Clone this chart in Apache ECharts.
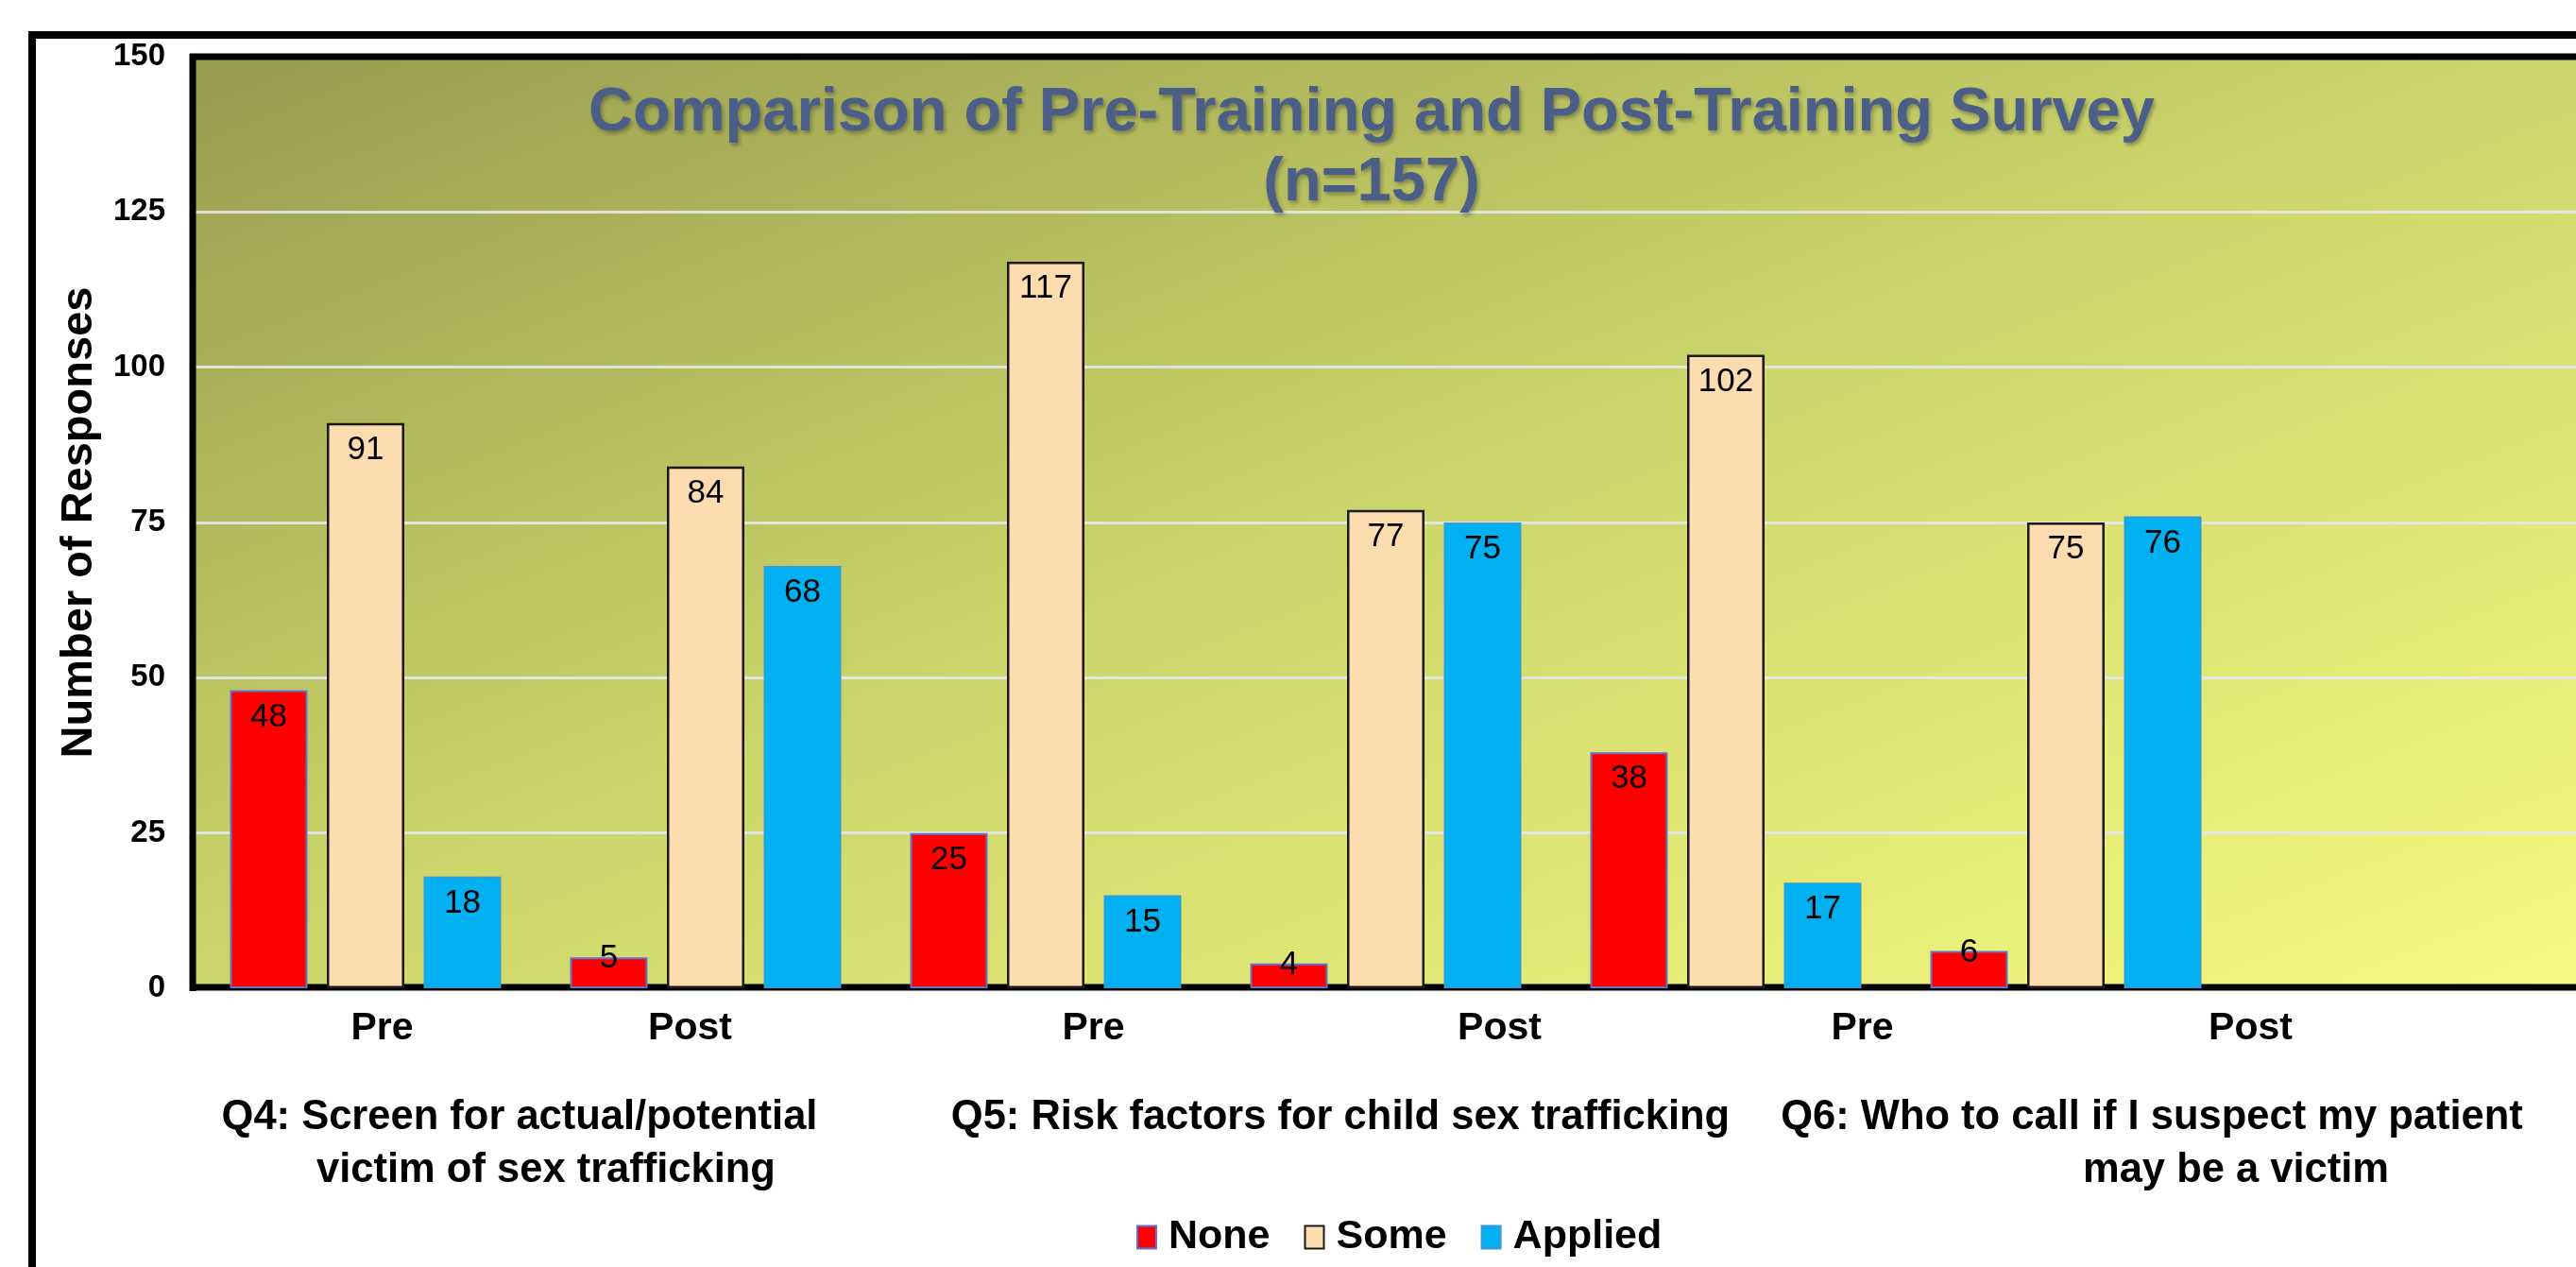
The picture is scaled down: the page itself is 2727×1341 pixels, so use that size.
<!DOCTYPE html>
<html>
<head>
<meta charset="utf-8">
<script src="https://cdn.jsdelivr.net/npm/echarts@6/dist/echarts.min.js"></script>
<style>
html,body{margin:0;padding:0;background:#fff;}
#c{width:2727px;height:1341px;}
</style>
</head>
<body>
<div id="c"></div>
<script>
// ---- data ----
const categories = ['Pre', 'Post', 'Pre', 'Post', 'Pre', 'Post'];
const seriesNames = ['None', 'Some', 'Applied'];
const noneValues = [48, 5, 25, 4, 38, 6];
const someValues = [91, 84, 117, 77, 102, 75];
const appliedValues = [18, 68, 15, 75, 17, 76];
const yMin = 0, yMax = 150, yStep = 25;
const chartTitle = 'Comparison of Pre-Training and Post-Training Survey\n(n=157)';
const yAxisTitle = 'Number of Responses';
const questionLabels = [
  ['Q4: Screen for actual/potential', 'victim of sex trafficking'],
  ['Q5: Risk factors for child sex trafficking'],
  ['Q6: Who to call if I suspect my patient', 'may be a victim']
];

// ---- layout ----
const FONT = '"Liberation Sans", Arial, sans-serif';
const plotL = 207, plotT = 60, plotB = 1046, W = 2727;
const catW = 368.4;
// horizontal nudges (px) of the category labels, as placed in the original slide
const labelShift = [35, -40, -14, 15, -2, 8];

const chart = echarts.init(document.getElementById('c'), null, {renderer: 'canvas'});

function mkData(vals) {
  return vals.map(v => v < 10 ? {value: v, label: {position: 'top', distance: -19}} : v);
}
const labelStyle = {show: true, position: 'insideTop', distance: 11, fontSize: 35, color: '#000', fontFamily: FONT};

const qPos = [
  [[550, 1183], [578, 1239]],
  [[1419, 1183]],
  [[2278, 1183], [2367, 1239]]
];
const qTexts = [];
questionLabels.forEach((lines, i) => lines.forEach((t, j) => {
  qTexts.push({type: 'text', z: 20, silent: true, style: {text: t, x: qPos[i][j][0], y: qPos[i][j][1], align: 'center', verticalAlign: 'middle',
    fontSize: 43.5, fontWeight: 'bold', fontFamily: FONT, fill: '#000'}});
}));

const richLabels = {};
labelShift.forEach((d, i) => {
  richLabels['c' + i] = {fontSize: 41, fontWeight: 'bold', color: '#000', fontFamily: FONT,
    padding: d >= 0 ? [0, 0, 0, 2 * d] : [0, -2 * d, 0, 0]};
});

const option = {
  animation: false,
  backgroundColor: '#fff',
  textStyle: {fontFamily: FONT},
  grid: [
    {left: plotL, top: plotT, width: catW * 7, height: plotB - plotT, containLabel: false},
    {left: 169, top: plotT, width: 2406, height: plotB - plotT, containLabel: false}
  ],
  xAxis: [
    {type: 'category', gridIndex: 0, data: categories, max: categories.length,
      axisLine: {show: false}, axisTick: {show: false}, axisLabel: {show: false}},
    {type: 'category', gridIndex: 1, data: categories,
      axisLine: {show: false}, axisTick: {show: false},
      axisLabel: {show: true, margin: 22, interval: 0, fontSize: 41, fontWeight: 'bold', color: '#000', fontFamily: FONT,
        formatter: (v, i) => '{c' + i + '|' + v + '}', rich: richLabels}}
  ],
  yAxis: [
    {type: 'value', gridIndex: 0, min: yMin, max: yMax, interval: yStep,
      name: yAxisTitle, nameLocation: 'middle', nameGap: 99,
      nameTextStyle: {fontSize: 47, fontWeight: 'bold', color: '#000', fontFamily: FONT},
      axisLine: {show: false}, axisTick: {show: false},
      axisLabel: {margin: 32, fontSize: 33, fontWeight: 'bold', color: '#000', fontFamily: FONT},
      splitLine: {show: true, lineStyle: {color: 'rgba(226,232,236,0.9)', width: 3}}},
    {type: 'value', gridIndex: 1, min: yMin, max: yMax, show: false, splitLine: {show: false}}
  ],
  legend: {
    data: seriesNames, left: 1198, top: 1283, itemWidth: 20, itemHeight: 24, itemGap: 36,
    icon: 'rect',
    textStyle: {fontSize: 43, fontWeight: 'bold', color: '#000', fontFamily: FONT, padding: [0, 0, 0, 8]}
  },
  series: [
    {name: 'None', type: 'bar', xAxisIndex: 0, yAxisIndex: 0, data: mkData(noneValues), barWidth: 82, barGap: '25%',
      itemStyle: {color: '#ff0000', borderColor: '#5f74d0', borderWidth: 2}, label: labelStyle},
    {name: 'Some', type: 'bar', xAxisIndex: 0, yAxisIndex: 0, data: mkData(someValues), barWidth: 82, barGap: '25%',
      itemStyle: {color: '#fddcaf', borderColor: '#1a1a1a', borderWidth: 2.5}, label: labelStyle},
    {name: 'Applied', type: 'bar', xAxisIndex: 0, yAxisIndex: 0, data: mkData(appliedValues), barWidth: 82, barGap: '25%',
      itemStyle: {color: '#00b0f0', borderColor: '#3f95d6', borderWidth: 1.5}, label: labelStyle}
  ],
  graphic: [
    // plot background
    {type: 'rect', z: -10, silent: true, shape: {x: plotL, y: plotT, width: W - plotL, height: plotB - plotT},
      style: {fill: new echarts.graphic.LinearGradient(0, 0, 0.265, 1.735, [
        {offset: 0, color: '#989c4e'},
        {offset: 0.5, color: '#cdd66b'},
        {offset: 1, color: '#f7fa80'}
      ])}},
    // outer frame
    {type: 'line', z: 30, silent: true, shape: {x1: 30, y1: 37, x2: W, y2: 37}, style: {stroke: '#000', lineWidth: 8}},
    {type: 'line', z: 30, silent: true, shape: {x1: 34, y1: 33, x2: 34, y2: 1341}, style: {stroke: '#000', lineWidth: 8}},
    // plot frame
    {type: 'line', z: 30, silent: true, shape: {x1: 201, y1: 60, x2: W, y2: 60}, style: {stroke: '#000', lineWidth: 7}},
    {type: 'line', z: 30, silent: true, shape: {x1: 204, y1: 57, x2: 204, y2: 1049}, style: {stroke: '#000', lineWidth: 7}},
    {type: 'line', z: 1, silent: true, shape: {x1: 201, y1: 1045, x2: W, y2: 1045}, style: {stroke: '#000', lineWidth: 7}},
    // title
    {type: 'text', z: 20, silent: true, style: {text: chartTitle, x: 1452, y: 157, align: 'center', verticalAlign: 'middle',
      fontSize: 65, lineHeight: 74, fontWeight: 'bold', fontFamily: FONT, fill: '#4b5e87',
      textShadowColor: 'rgba(40,40,40,0.4)', textShadowBlur: 4, textShadowOffsetX: 2, textShadowOffsetY: 3}}
  ].concat(qTexts)
};
chart.setOption(option);
</script>
</body>
</html>
